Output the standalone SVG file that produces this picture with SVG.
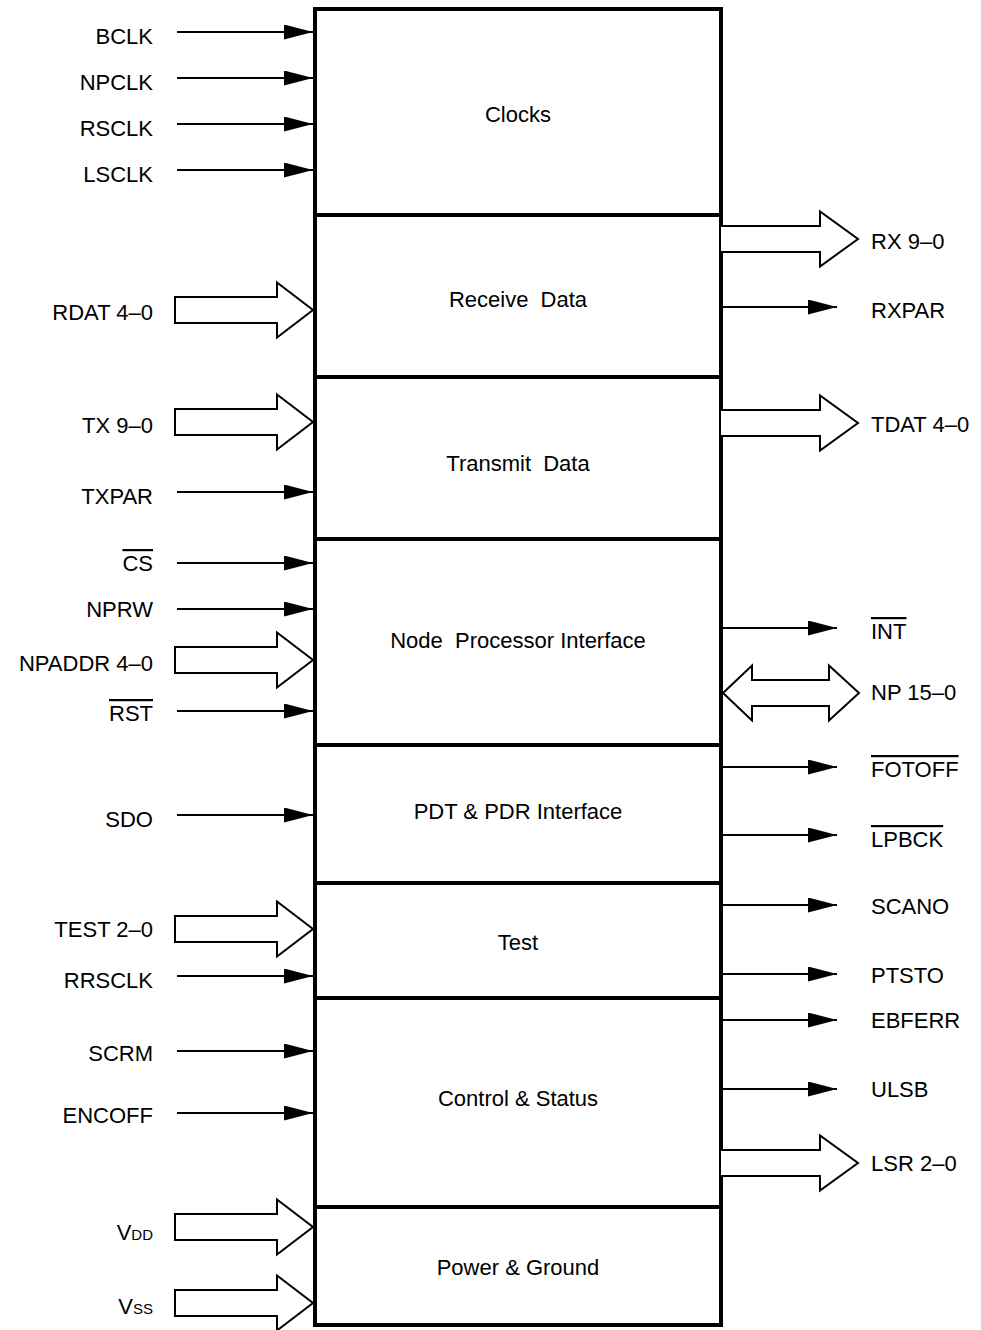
<svg xmlns="http://www.w3.org/2000/svg" width="981" height="1330" viewBox="0 0 981 1330">
<style>
text{font-family:"Liberation Sans",Arial,sans-serif;font-size:22px;fill:#000}
.l{text-anchor:end}
.r{text-anchor:start}
.c{text-anchor:middle;white-space:pre}
.ov{text-decoration:overline}
.sig{stroke:#000;stroke-width:2;fill:none}
.bus{stroke:#000;stroke-width:2;fill:#fff;stroke-linejoin:miter}
.box{stroke:#000;stroke-width:4;fill:#fff}
.div{stroke:#000;stroke-width:4}
</style>
<defs>
<marker id="ah" markerWidth="30" markerHeight="16" refX="29" refY="7.5" orient="auto" markerUnits="userSpaceOnUse">
<path d="M0,0 L29,7.5 L0,15 Z" fill="#000"/>
</marker>
</defs>
<rect width="981" height="1330" fill="#fff"/>
<g id="chip">
<rect class="box" x="315" y="9" width="406" height="1316"/>
<line class="div" x1="315" y1="215" x2="721" y2="215"/>
<line class="div" x1="315" y1="377" x2="721" y2="377"/>
<line class="div" x1="315" y1="539" x2="721" y2="539"/>
<line class="div" x1="315" y1="745" x2="721" y2="745"/>
<line class="div" x1="315" y1="883" x2="721" y2="883"/>
<line class="div" x1="315" y1="998" x2="721" y2="998"/>
<line class="div" x1="315" y1="1207" x2="721" y2="1207"/>
</g>
<g id="clocks"><text class="c" x="518" y="122">Clocks</text></g>
<g id="receive"><text class="c" x="518" y="307">Receive  Data</text></g>
<g id="transmit"><text class="c" x="518" y="471">Transmit  Data</text></g>
<g id="npi"><text class="c" x="518" y="648">Node  Processor Interface</text></g>
<g id="pdt"><text class="c" x="518" y="819">PDT &amp; PDR Interface</text></g>
<g id="test"><text class="c" x="518" y="950">Test</text></g>
<g id="control"><text class="c" x="518" y="1106">Control &amp; Status</text></g>
<g id="power"><text class="c" x="518" y="1275">Power &amp; Ground</text></g>
<g id="connectors">
<!-- left thin inputs -->
<line class="sig" x1="177" y1="32" x2="313" y2="32" marker-end="url(#ah)"/>
<line class="sig" x1="177" y1="78" x2="313" y2="78" marker-end="url(#ah)"/>
<line class="sig" x1="177" y1="124" x2="313" y2="124" marker-end="url(#ah)"/>
<line class="sig" x1="177" y1="170" x2="313" y2="170" marker-end="url(#ah)"/>
<line class="sig" x1="177" y1="492" x2="313" y2="492" marker-end="url(#ah)"/>
<line class="sig" x1="177" y1="563" x2="313" y2="563" marker-end="url(#ah)"/>
<line class="sig" x1="177" y1="609" x2="313" y2="609" marker-end="url(#ah)"/>
<line class="sig" x1="177" y1="711" x2="313" y2="711" marker-end="url(#ah)"/>
<line class="sig" x1="177" y1="815" x2="313" y2="815" marker-end="url(#ah)"/>
<line class="sig" x1="177" y1="976" x2="313" y2="976" marker-end="url(#ah)"/>
<line class="sig" x1="177" y1="1051" x2="313" y2="1051" marker-end="url(#ah)"/>
<line class="sig" x1="177" y1="1113" x2="313" y2="1113" marker-end="url(#ah)"/>
<!-- left bus inputs -->
<path class="bus" d="M175,297 L277,297 L277,282.5 L313,310 L277,337.5 L277,323 L175,323 Z"/>
<path class="bus" d="M175,409 L277,409 L277,394.5 L313,422 L277,449.5 L277,435 L175,435 Z"/>
<path class="bus" d="M175,647 L277,647 L277,632.5 L313,660 L277,687.5 L277,673 L175,673 Z"/>
<path class="bus" d="M175,916 L277,916 L277,901.5 L313,929 L277,956.5 L277,942 L175,942 Z"/>
<path class="bus" d="M175,1214 L277,1214 L277,1199.5 L313,1227 L277,1254.5 L277,1240 L175,1240 Z"/>
<path class="bus" d="M175,1290 L277,1290 L277,1275.5 L313,1303 L277,1330.5 L277,1316 L175,1316 Z"/>
<!-- right thin outputs -->
<line class="sig" x1="721" y1="307" x2="837" y2="307" marker-end="url(#ah)"/>
<line class="sig" x1="721" y1="628" x2="837" y2="628" marker-end="url(#ah)"/>
<line class="sig" x1="721" y1="767" x2="837" y2="767" marker-end="url(#ah)"/>
<line class="sig" x1="721" y1="835" x2="837" y2="835" marker-end="url(#ah)"/>
<line class="sig" x1="721" y1="905" x2="837" y2="905" marker-end="url(#ah)"/>
<line class="sig" x1="721" y1="974" x2="837" y2="974" marker-end="url(#ah)"/>
<line class="sig" x1="721" y1="1020" x2="837" y2="1020" marker-end="url(#ah)"/>
<line class="sig" x1="721" y1="1089" x2="837" y2="1089" marker-end="url(#ah)"/>
<!-- right bus outputs -->
<path class="bus" d="M721,226 L820,226 L820,211.5 L858,239 L820,266.5 L820,252 L721,252"/>
<path class="bus" d="M721,410 L820,410 L820,395.5 L858,423 L820,450.5 L820,436 L721,436"/>
<path class="bus" d="M721,1150 L820,1150 L820,1135.5 L858,1163 L820,1190.5 L820,1176 L721,1176"/>
<!-- bidirectional -->
<path class="bus" d="M723,693 L752,665.5 L752,680 L829,680 L829,665.5 L859,693 L829,720.5 L829,706 L752,706 L752,720.5 Z"/>
</g>
<g id="left-labels">
<text class="l" x="153" y="44">BCLK</text>
<text class="l" x="153" y="90">NPCLK</text>
<text class="l" x="153" y="136">RSCLK</text>
<text class="l" x="153" y="182">LSCLK</text>
<text class="l" x="153" y="320">RDAT 4–0</text>
<text class="l" x="153" y="433">TX 9–0</text>
<text class="l" x="153" y="504">TXPAR</text>
<text class="l ov" x="153" y="571">CS</text>
<text class="l" x="153" y="617">NPRW</text>
<text class="l" x="153" y="671">NPADDR 4–0</text>
<text class="l ov" x="153" y="721">RST</text>
<text class="l" x="153" y="827">SDO</text>
<text class="l" x="153" y="937">TEST 2–0</text>
<text class="l" x="153" y="988">RRSCLK</text>
<text class="l" x="153" y="1061">SCRM</text>
<text class="l" x="153" y="1123">ENCOFF</text>
<text class="l" x="153" y="1240">V<tspan font-size="15">DD</tspan></text>
<text class="l" x="153" y="1314">V<tspan font-size="15">SS</tspan></text>
</g>
<g id="right-labels">
<text class="r" x="871" y="249">RX 9–0</text>
<text class="r" x="871" y="318">RXPAR</text>
<text class="r" x="871" y="432">TDAT 4–0</text>
<text class="r ov" x="871" y="639">INT</text>
<text class="r" x="871" y="700">NP 15–0</text>
<text class="r ov" x="871" y="777">FOTOFF</text>
<text class="r ov" x="871" y="847">LPBCK</text>
<text class="r" x="871" y="914">SCANO</text>
<text class="r" x="871" y="983">PTSTO</text>
<text class="r" x="871" y="1028">EBFERR</text>
<text class="r" x="871" y="1097">ULSB</text>
<text class="r" x="871" y="1171">LSR 2–0</text>
</g>
</svg>
